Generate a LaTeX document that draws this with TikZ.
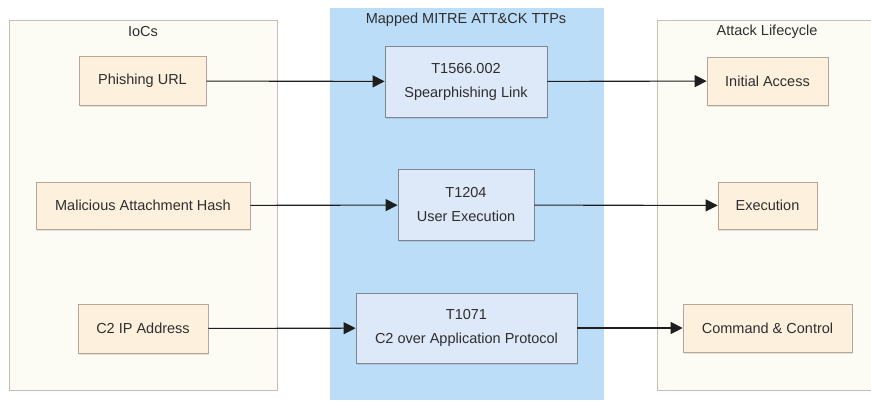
\documentclass[tikz,border=0pt]{standalone}
\usepackage{fontspec}
\setmainfont{Liberation Sans}
\usetikzlibrary{arrows.meta,shadows}

\definecolor{panelfill}{HTML}{FDFCF4}
\definecolor{panelline}{HTML}{C9BBBB}
\definecolor{midfill}{HTML}{BCDDF7}
\definecolor{iocfill}{HTML}{FDF0DD}
\definecolor{iocline}{HTML}{B5A89B}
\definecolor{ttpfill}{HTML}{DDE8F9}
\definecolor{ttpline}{HTML}{7D8794}
\definecolor{txt}{HTML}{2E2E2E}
\definecolor{wire}{HTML}{1E1E1E}

\tikzset{
  lbl/.style={font=\fontsize{14.5}{24}\selectfont, text=txt},
  panel/.style={draw=panelline, fill=panelfill, line width=0.8pt,
    drop shadow={shadow xshift=0.6pt, shadow yshift=-1.2pt, opacity=0.2}},
  iocbox/.style={lbl, draw=iocline, fill=iocfill, line width=0.7pt, inner sep=0pt,
    align=center, drop shadow={shadow xshift=1pt, shadow yshift=-1.5pt, opacity=0.22}},
  ttpbox/.style={lbl, draw=ttpline, fill=ttpfill, line width=0.8pt, inner sep=0pt,
    align=center, drop shadow={shadow xshift=1pt, shadow yshift=-1.5pt, opacity=0.25}},
  link/.style={draw=wire, line width=1.1pt, -{Triangle[length=12pt,width=12pt]}},
}

\begin{document}
\begin{tikzpicture}[x=1pt,y=-1pt]
\useasboundingbox (0,0) rectangle (871,400);
\fill[white] (0,0) rectangle (871,400);

% columns
\path[panel] (9,20) rectangle (277,390);
\fill[midfill] (330,8) rectangle (604,400);
\path[panel] (657,20) rectangle (880,390);

\node[lbl] (t1) at (143,32) {IoCs};
\node[lbl] (t2) at (466,20) {Mapped MITRE ATT\&CK TTPs};
\node[lbl] (t3) at (767,32) {Attack Lifecycle};

% indicators
\node[iocbox, minimum width=127pt, minimum height=49pt] (ioc1) at (142.5,81) {Phishing URL};
\node[iocbox, minimum width=214pt, minimum height=47pt] (ioc2) at (143,205.5) {Malicious Attachment Hash};
\node[iocbox, minimum width=130pt, minimum height=49pt] (ioc3) at (143,328.5) {C2 IP Address};

% techniques
\node[ttpbox, minimum width=162pt, minimum height=71pt] (ttp1) at (466,81.5) {T1566.002\\Spearphishing Link};
\node[ttpbox, minimum width=136pt, minimum height=71pt] (ttp2) at (466,205) {T1204\\User Execution};
\node[ttpbox, minimum width=221pt, minimum height=70pt] (ttp3) at (466.5,328) {T1071\\C2 over Application Protocol};

% lifecycle stages
\node[iocbox, minimum width=121pt, minimum height=48pt] (st1) at (767.5,81) {Initial Access};
\node[iocbox, minimum width=99pt, minimum height=47pt] (st2) at (767.5,205.5) {Execution};
\node[iocbox, minimum width=169pt, minimum height=48pt] (st3) at (767.5,328) {Command \& Control};

% mappings
\draw[link] (ioc1) -- (ttp1);
\draw[link] (ioc2) -- (ttp2);
\draw[link] (ioc3) -- (ttp3);
\draw[link] (ttp1) -- (st1);
\draw[link] (ttp2) -- (st2);
\draw[link] (ttp3) -- (st3);
\end{tikzpicture}
\end{document}
